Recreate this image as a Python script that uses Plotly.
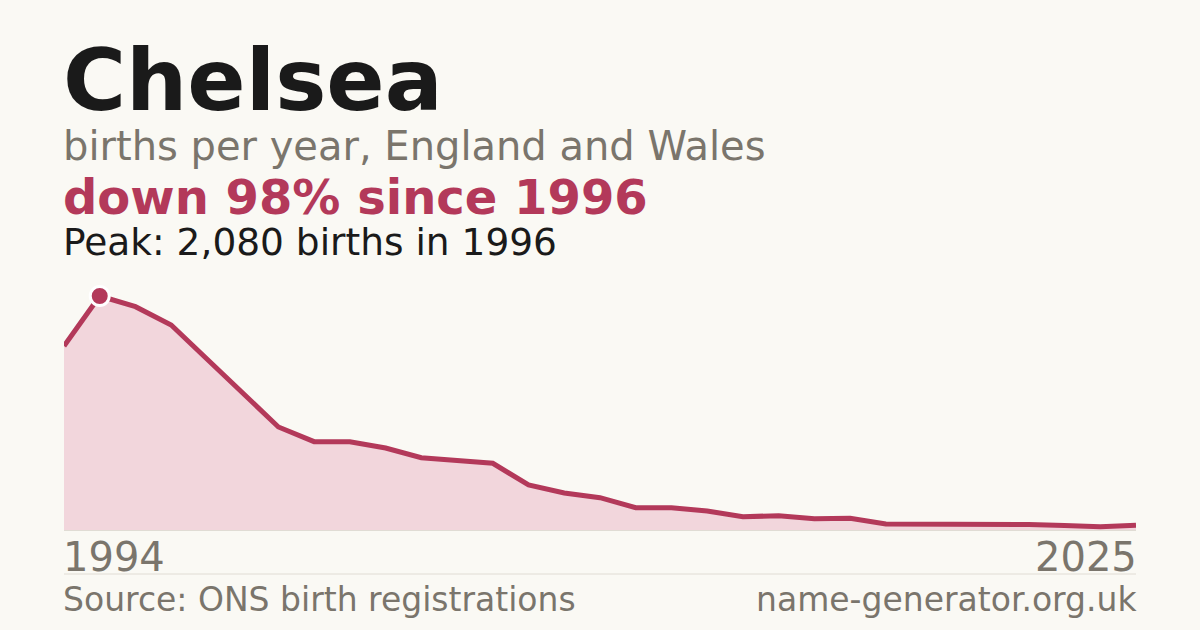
import plotly.graph_objects as go

# Births per year, Chelsea (England and Wales)
anos = ['1994', '1996', '1997', '1998', '1999', '2000', '2001', '2002', '2003', '2004',
        '2005', '2006', '2007', '2008', '2009', '2010', '2011', '2012', '2013', '2014',
        '2015', '2016', '2017', '2018', '2019', '2020', '2021', '2022', '2023', '2024', '2025']
nascimentos = [1636, 2080, 1985, 1822, 1520, 1218, 916, 785, 785, 729,
               643, 618, 593, 400, 329, 287, 198, 198, 169, 118,
               127, 100, 104, 53, 51, 60, 58, 49, 40, 29, 42]

pico_ano = '1996'
pico_valor = 2080

vermelho = '#b3395a'
cinza = '#7a756c'
fundo = '#faf9f4'

# plot area spans y=280..530 px, so paper coords for text are computed from pixels
topo, base = 280, 530
def py(p):
    return (base - p) / (base - topo)

# small horizontal nudge so text lines up with the plot edges
dx = 2 / 1072

fig = go.Figure()

fig.add_trace(go.Scatter(
    x=anos, y=nascimentos, mode='lines',
    line=dict(color=vermelho, width=5),
    fill='tozeroy', fillcolor='#f2d6dc',
    hoverinfo='skip', cliponaxis=False
))

fig.add_trace(go.Scatter(
    x=[pico_ano], y=[pico_valor], mode='markers',
    marker=dict(color=vermelho, size=19, line=dict(color='white', width=3)),
    hoverinfo='skip', cliponaxis=False
))

fonte = 'DejaVu Sans'
textos = [
    ('<b>Chelsea</b>', -dx, 'left', 80, 86, '#1a1a1a'),
    ('births per year, England and Wales', -dx, 'left', 146, 40, cinza),
    ('<b>down 98% since 1996</b>', -dx, 'left', 197, 48, vermelho),
    ('Peak: 2,080 births in 1996', -dx, 'left', 242, 37.5, '#1a1a1a'),
    (anos[0], -dx, 'left', 557, 40, cinza),
    (anos[-1], 1 + dx, 'right', 557, 40, cinza),
    ('Source: ONS birth registrations', -dx, 'left', 599, 33, cinza),
    ('name-generator.org.uk', 1 + dx, 'right', 599, 33, cinza),
]
for t, x, anc, ypix, tam, cor in textos:
    fig.add_annotation(text=t, x=x, xref='paper', xanchor=anc,
                       y=py(ypix), yref='paper', yanchor='middle',
                       showarrow=False, borderpad=0,
                       font=dict(family=fonte, size=tam, color=cor))

# divider above footer
fig.add_shape(type='line', xref='paper', yref='paper', x0=0, x1=1,
              y0=py(574), y1=py(574), line=dict(color='#e0dcd4', width=1))

fig.update_xaxes(type='category', range=[0, len(anos) - 1], showgrid=False,
                 showticklabels=False, zeroline=False,
                 showline=True, linecolor='#e0dcd4', linewidth=1)
fig.update_yaxes(range=[0, 2222], showgrid=False, showticklabels=False, zeroline=False)

fig.update_layout(
    width=1200, height=630,
    margin=dict(l=64, r=64, t=topo, b=630 - base),
    paper_bgcolor=fundo, plot_bgcolor=fundo,
    showlegend=False
)

fig.write_html('out.html', config={'displayModeBar': False},
               post_script="document.body.style.margin='0';")
